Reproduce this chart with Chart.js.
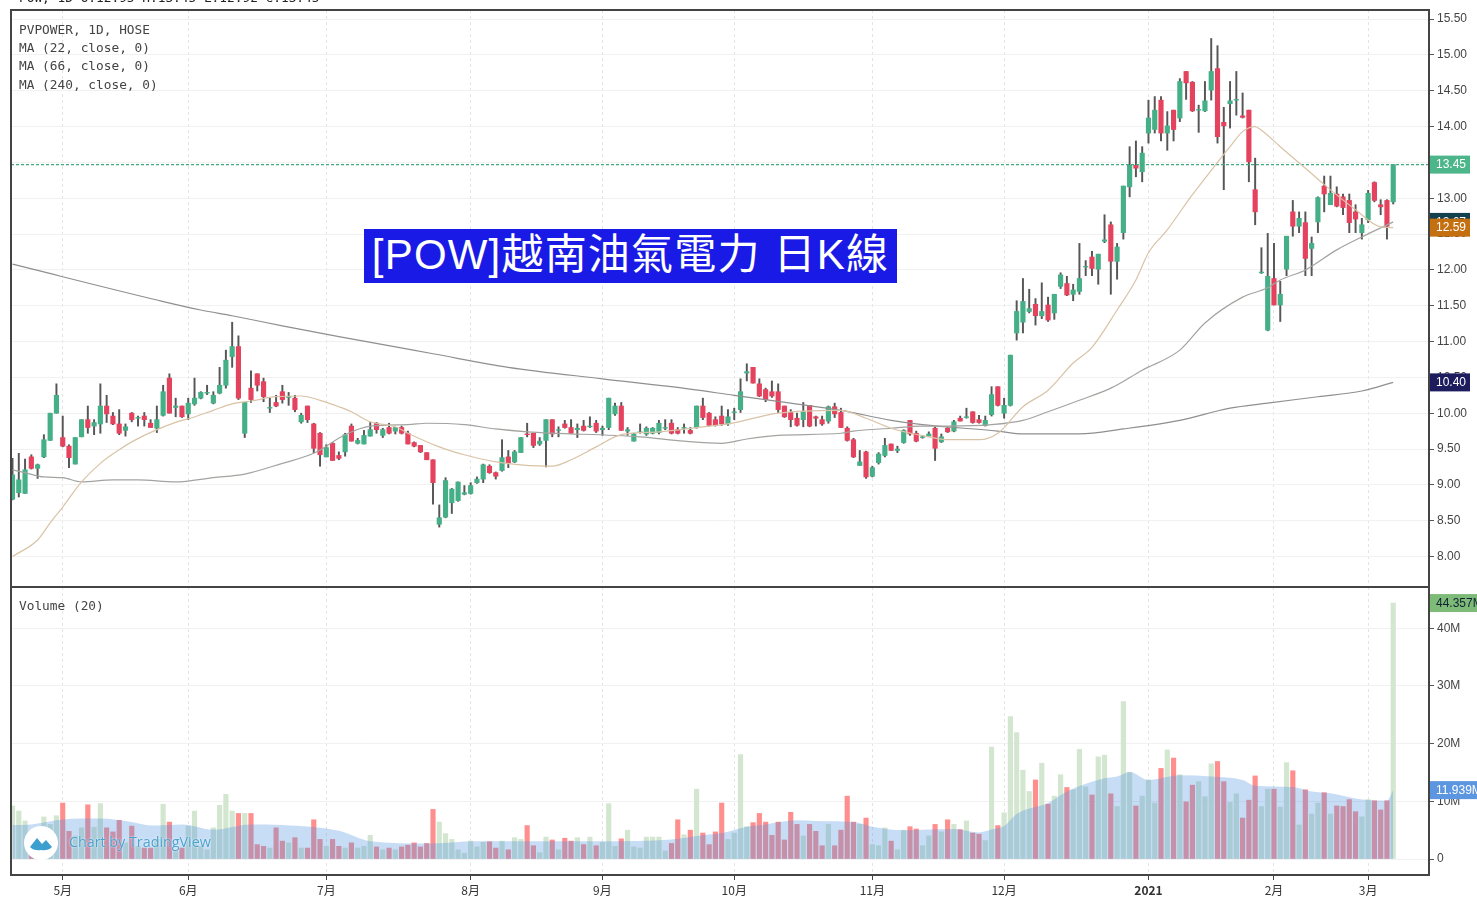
<!DOCTYPE html>
<html>
<head>
<meta charset="utf-8">
<title>POW</title>
<script src="https://cdn.jsdelivr.net/npm/chart.js@4/dist/chart.umd.min.js"></script>
<style>
  html, body { margin: 0; background: #fff; overflow: hidden; }
  #page { position: relative; width: 1477px; height: 898px; overflow: hidden; filter: blur(0.45px); }
  canvas { position: absolute; left: 0; }
  .mono { position: absolute; left: 19px; font: 12.8px/14px "DejaVu Sans Mono", monospace; color: #444; white-space: pre; }
  #banner { position: absolute; left: 364px; top: 229px; width: 533px; height: 54px; background: #1a1ae6; color: #fff;
    font: 42px/51px "Liberation Sans", "Noto Sans CJK TC", sans-serif; letter-spacing: 1.2px; text-align: center; white-space: pre; }
  #brand { position: absolute; left: 69px; top: 833px; font: 14.3px/18px "Open Sans", sans-serif; color: #4aa3cf; text-shadow: 0 0 2px #fff; }
  #logo { position: absolute; left: 24px; top: 826px; }
</style>
</head>
<body>
<div id="page">
  <canvas id="priceChart" width="1477" height="587" style="top:0"></canvas>
  <canvas id="volumeChart" width="1477" height="311" style="top:587px"></canvas>
  <div class="mono" style="top:-9px;color:#222">POW, 1D O:12.95 H:13.45 L:12.92 C:13.45</div>
  <div class="mono" style="top:23px">PVPOWER, 1D, HOSE</div>
  <div class="mono" style="top:41px">MA (22, close, 0)</div>
  <div class="mono" style="top:59px">MA (66, close, 0)</div>
  <div class="mono" style="top:78px">MA (240, close, 0)</div>
  <div class="mono" style="top:599px">Volume (20)</div>
  <div id="banner">[POW]越南油氣電力 日K線</div>
  <svg id="logo" width="34" height="34" viewBox="0 0 34 34">
    <circle cx="17" cy="17" r="17" fill="#fff"/>
    <path d="M6 21 L13 12 L18 18 L22 14 L28 21 Q24 25 17 24 Q10 25 6 21 Z" fill="#3d9fd0"/>
  </svg>
  <div id="brand">Chart by TradingView</div>
</div>
<script>
const monthTicks = [8, 28, 50, 73, 94, 115, 137, 158, 181, 201, 216];
const monthLabels = ['5月', '6月', '7月', '8月', '9月', '10月', '11月', '12月', '2021', '2月', '3月'];
const priceTicks = [8, 8.5, 9, 9.5, 10, 10.5, 11, 11.5, 12, 12.5, 13, 13.5, 14, 14.5, 15, 15.5];
const volumeTicks = [0, 10, 20, 30, 40];

const opens = [
  8.80,8.89,8.88,9.39,9.23,9.39,9.62,10.00,9.66,9.54,
  9.29,9.67,9.91,9.82,9.85,10.10,9.96,9.85,9.76,10.00,
  9.93,9.96,9.86,9.79,9.97,10.49,10.08,10.10,9.99,10.13,
  10.21,10.28,10.14,10.28,10.39,10.79,10.93,9.72,10.35,10.55,
  10.44,10.07,10.15,10.30,10.22,10.21,9.88,10.10,9.85,9.72,
  9.39,9.58,9.41,9.46,9.82,9.58,9.57,9.68,9.86,9.69,
  9.80,9.75,9.80,9.72,9.59,9.55,9.45,9.35,8.45,8.55,
  8.75,8.78,8.87,8.88,9.03,9.08,9.26,9.17,9.20,9.39,
  9.32,9.45,9.71,9.72,9.57,9.62,9.91,9.76,9.85,9.80,
  9.77,9.82,9.81,9.86,9.77,9.80,9.99,10.10,9.75,9.61,
  9.73,9.71,9.72,9.73,9.79,9.86,9.77,9.79,9.76,9.80,
  10.10,10.00,9.91,9.96,9.85,10.01,10.05,10.56,10.64,10.41,
  10.33,10.30,10.30,10.10,10.01,9.93,9.91,10.11,9.95,9.91,
  9.89,10.09,10.01,9.79,9.63,9.27,9.46,9.12,9.31,9.41,
  9.57,9.48,9.59,9.90,9.72,9.66,9.68,9.79,9.60,9.79,
  9.75,9.93,9.94,10.02,9.91,9.83,9.98,10.37,10.00,10.11,
  11.12,11.27,11.42,11.52,11.36,11.51,11.40,11.77,11.81,11.66,
  11.70,12.04,12.18,12.01,12.40,12.63,12.12,12.52,13.16,13.46,
  13.37,13.91,13.96,14.37,13.91,14.23,14.12,14.77,14.62,14.23,
  14.22,14.51,14.81,14.06,14.32,14.37,14.15,14.23,13.12,11.96,
  11.16,11.88,11.51,12.01,12.81,12.61,12.66,12.30,12.67,13.17,
  12.91,13.06,13.02,12.97,12.81,12.52,12.70,13.22,12.91,12.97,12.95
];
const highs = [
  9.37,9.44,9.36,9.42,9.29,9.70,10.00,10.41,9.96,9.56,
  9.66,9.91,10.10,9.91,10.41,10.25,10.01,10.05,9.85,10.01,
  9.96,10.01,9.91,10.10,10.39,10.55,10.21,10.10,10.21,10.49,
  10.30,10.39,10.30,10.64,10.88,11.27,11.08,10.15,10.59,10.55,
  10.49,10.21,10.25,10.39,10.29,10.25,10.00,10.10,9.86,9.73,
  9.56,9.59,9.46,9.72,9.85,9.65,9.76,9.87,9.87,9.79,
  9.86,9.80,9.82,9.75,9.60,9.55,9.45,9.35,8.72,9.10,
  8.95,9.04,8.99,9.03,9.11,9.29,9.28,9.18,9.63,9.48,
  9.48,9.66,9.86,9.72,9.66,9.91,9.91,9.81,9.90,9.91,
  9.85,9.90,9.95,9.90,9.82,10.21,10.14,10.15,9.80,9.72,
  9.85,9.81,9.80,9.90,9.91,9.91,9.80,9.85,9.80,10.10,
  10.21,10.01,9.95,10.10,10.05,10.07,10.48,10.69,10.64,10.48,
  10.35,10.45,10.41,10.10,10.05,10.00,10.15,10.11,9.96,9.96,
  10.10,10.14,10.07,9.81,9.65,9.48,9.47,9.26,9.45,9.65,
  9.57,9.54,9.77,9.90,9.75,9.69,9.74,9.81,9.71,9.80,
  9.90,9.96,10.07,10.02,9.97,9.96,10.37,10.37,10.21,10.81,
  11.57,11.88,11.73,11.60,11.82,11.62,11.66,11.96,11.91,11.80,
  12.37,12.13,12.26,12.22,12.77,12.67,12.37,13.17,13.72,13.80,
  13.72,14.37,14.42,14.42,14.21,14.23,14.67,14.77,14.63,14.30,
  14.63,15.23,15.13,14.27,14.63,14.77,14.47,14.23,13.56,12.31,
  12.51,12.37,11.84,12.47,12.97,12.81,12.81,12.46,13.02,13.31,
  13.31,13.16,13.06,13.06,12.91,12.72,13.11,13.23,12.98,12.98,13.47
];
const lows = [
  8.79,8.83,8.88,9.22,9.09,9.38,9.62,10.00,9.53,9.24,
  9.29,9.67,9.72,9.70,9.72,9.87,9.84,9.70,9.68,9.88,
  9.82,9.82,9.80,9.73,9.96,10.00,9.95,9.94,9.91,10.11,
  10.20,10.26,10.13,10.27,10.35,10.64,10.19,9.66,10.15,10.31,
  10.16,10.01,10.09,10.14,10.11,10.02,9.86,9.87,9.45,9.26,
  9.39,9.34,9.35,9.40,9.61,9.57,9.57,9.68,9.72,9.66,
  9.71,9.71,9.71,9.57,9.53,9.45,9.35,8.73,8.41,8.54,
  8.60,8.77,8.86,8.87,9.02,9.03,9.16,9.08,9.19,9.24,
  9.31,9.45,9.67,9.52,9.55,9.25,9.67,9.67,9.79,9.72,
  9.66,9.75,9.80,9.73,9.69,9.77,9.97,9.76,9.69,9.61,
  9.72,9.69,9.71,9.71,9.77,9.71,9.71,9.72,9.71,9.79,
  9.91,9.82,9.82,9.83,9.83,9.91,10.01,10.45,10.42,10.23,
  10.16,10.22,10.01,9.94,9.81,9.82,9.81,9.81,9.82,9.83,
  9.86,9.94,9.80,9.61,9.38,9.27,9.09,9.11,9.29,9.39,
  9.48,9.45,9.58,9.69,9.60,9.65,9.68,9.34,9.59,9.73,
  9.74,9.89,9.93,9.86,9.86,9.82,9.96,10.10,9.93,10.10,
  11.02,11.12,11.40,11.23,11.32,11.28,11.31,11.74,11.64,11.57,
  11.66,11.92,11.92,11.80,12.38,11.66,11.87,12.43,13.02,13.30,
  13.23,13.77,13.91,13.80,13.67,13.80,14.07,14.38,14.21,13.92,
  14.21,14.37,13.77,13.12,13.98,14.16,14.12,13.23,12.63,11.95,
  11.15,11.51,11.28,11.92,12.47,12.52,11.92,11.92,12.52,12.81,
  12.91,12.88,12.77,12.52,12.52,12.43,12.66,12.95,12.77,12.43,12.92
];
const closes = [
  9.14,9.07,9.21,9.23,9.28,9.63,10.00,10.25,9.54,9.38,
  9.66,9.91,9.80,9.87,10.10,9.99,9.85,9.72,9.81,9.91,
  9.94,9.91,9.80,9.91,10.30,10.00,10.10,9.95,10.14,10.21,
  10.29,10.29,10.25,10.39,10.74,10.93,10.21,10.15,10.19,10.39,
  10.23,10.08,10.10,10.19,10.23,10.05,9.97,9.91,9.51,9.42,
  9.52,9.34,9.37,9.70,9.61,9.62,9.69,9.77,9.77,9.77,
  9.72,9.80,9.72,9.57,9.54,9.46,9.35,9.03,8.54,9.06,
  8.94,9.04,8.89,8.99,9.08,9.28,9.17,9.12,9.38,9.31,
  9.46,9.66,9.70,9.55,9.61,9.91,9.71,9.77,9.80,9.72,
  9.79,9.76,9.82,9.75,9.79,10.21,10.10,9.76,9.77,9.71,
  9.74,9.79,9.79,9.86,9.80,9.72,9.72,9.80,9.72,10.10,
  9.94,9.83,9.83,9.85,9.95,10.02,10.30,10.58,10.42,10.24,
  10.19,10.24,10.05,9.95,9.91,9.83,10.02,9.82,9.93,9.85,
  10.09,9.99,9.80,9.62,9.39,9.32,9.11,9.24,9.43,9.55,
  9.48,9.50,9.76,9.71,9.61,9.67,9.71,9.51,9.67,9.74,
  9.88,9.89,9.95,9.87,9.87,9.90,10.26,10.11,10.11,10.81,
  11.42,11.56,11.46,11.36,11.42,11.30,11.66,11.93,11.65,11.72,
  11.88,12.05,12.02,12.22,12.42,12.12,12.32,13.17,13.46,13.42,
  13.63,14.12,14.23,13.91,14.01,13.96,14.63,14.61,14.22,14.24,
  14.36,14.77,13.86,14.01,14.36,14.38,14.13,13.51,12.81,11.97,
  11.91,11.51,11.66,12.47,12.61,12.72,12.16,12.37,13.01,13.06,
  13.07,12.89,12.87,12.66,12.71,12.63,13.07,12.97,12.88,12.61,13.47
];
// millions of shares
const volumes = [
  9.2,8.3,6.6,4.0,5.5,7.3,6.0,7.5,9.7,4.8,
  4.0,5.4,9.4,5.5,9.6,5.4,4.7,6.7,2.8,5.7,
  2.2,1.9,1.9,3.4,9.5,6.4,1.4,1.9,5.7,8.3,
  2.2,1.6,5.4,9.3,11.2,8.3,7.9,7.9,7.9,2.5,
  2.2,1.9,5.4,3.1,2.8,3.7,1.9,1.9,6.8,3.4,
  2.2,3.4,2.2,1.9,2.8,1.9,2.2,4.1,2.1,1.6,
  1.9,1.6,2.1,2.4,2.8,2.1,2.7,8.6,6.4,4.4,
  3.4,1.6,1.0,3.1,2.1,2.9,3.0,1.9,3.1,1.6,
  3.7,3.4,5.8,2.3,1.1,3.8,3.3,1.6,3.6,3.1,
  3.7,2.5,3.8,2.3,2.9,9.6,2.2,3.5,5.0,2.1,
  1.9,3.8,3.8,3.8,1.4,2.7,6.8,4.2,5.0,12.1,
  4.5,2.5,4.7,9.7,3.4,4.5,18.1,5.6,6.3,7.9,
  6.4,4.1,6.4,3.3,8.1,6.0,4.0,6.0,4.8,2.3,
  6.0,2.3,5.0,10.9,6.4,6.0,7.1,2.5,2.3,5.4,
  3.1,1.6,5.0,5.6,5.2,2.3,4.0,6.0,4.7,6.8,
  6.0,5.1,6.6,4.5,4.3,3.2,19.4,5.8,8.0,24.7,
  21.9,15.4,11.7,13.7,16.6,9.5,10.9,14.6,12.4,12.0,
  19.0,12.5,11.1,17.7,18.0,11.3,9.1,27.3,15.0,9.2,
  10.9,13.7,9.7,15.7,18.9,17.5,14.6,9.9,12.8,13.4,
  10.8,16.5,16.9,13.4,9.8,11.3,7.1,10.2,14.4,9.1,
  12.1,12.1,9.0,16.7,15.3,5.9,12.0,7.8,9.7,11.5,
  7.8,9.2,9.1,10.3,8.2,7.3,10.3,10.1,8.5,10.1,44.357
];

const ma22Days = [0,4,6,8,11,14,17,19,23,27,28,32,35,38,42,46,49,52,54,57,61,63,68,72,77,81,86,89,93,97,103,110,114,122,132,136,140,146,149,154,157,161,165,169,172,176,179,181,184,188,191,194,196,198,199,202,206,209,214,218,220];
const ma22Values = [8.00,8.23,8.47,8.69,9.04,9.30,9.49,9.60,9.77,9.90,9.92,10.04,10.13,10.17,10.23,10.24,10.18,10.09,10.02,9.88,9.81,9.72,9.53,9.42,9.32,9.28,9.26,9.35,9.53,9.70,9.74,9.81,9.85,10.00,10.04,9.93,9.79,9.67,9.63,9.63,9.72,10.09,10.32,10.70,10.92,11.44,11.86,12.24,12.56,13.05,13.39,13.72,13.93,14.00,13.95,13.72,13.42,13.19,12.84,12.60,12.59];
const ma66Days = [0,2,5,8,11,16,20,26,32,37,43,48,53,57,63,66,72,77,82,100,107,113,117,122,132,134,140,145,149,156,161,165,170,175,180,186,190,196,200,202,206,211,215,220];
const ma66Values = [9.21,9.17,9.11,9.10,9.04,9.07,9.07,9.04,9.10,9.15,9.30,9.44,9.70,9.82,9.84,9.86,9.84,9.78,9.74,9.67,9.61,9.58,9.64,9.69,9.72,9.75,9.79,9.82,9.82,9.84,9.90,10.02,10.18,10.35,10.60,10.88,11.26,11.62,11.75,11.86,12.00,12.28,12.46,12.67];
const ma240Days = [0,23,30,35,43,52,67,79,94,105,115,124,132,140,145,157,161,170,177,186,194,200,208,215,220];
const ma240Values = [12.08,11.58,11.44,11.36,11.22,11.07,10.83,10.64,10.48,10.37,10.25,10.14,10.04,9.90,9.84,9.75,9.71,9.71,9.78,9.90,10.07,10.14,10.23,10.31,10.43];
const volMaDays = [0,3,8,14,19,22,27,32,38,43,52,57,66,74,78,94,105,109,113,117,120,125,128,134,137,142,150,154,156,158,160,165,168,174,176,178,181,186,191,196,198,204,207,210,215,219,220];
const volMaValues = [5.9,6.0,6.85,7.0,6.4,5.8,6.0,5.1,6.0,5.9,4.9,3.1,2.7,3.1,3.1,3.1,3.4,4.0,4.5,5.6,6.0,6.7,6.6,6.4,5.6,5.0,5.2,4.6,5.1,5.7,7.8,9.7,11.7,14.0,14.3,15.1,13.7,14.5,14.3,13.7,12.7,12.5,11.7,11.4,10.3,10.1,11.939];

const lastPrice = 13.47;
const priceTagValues = [13.47, 12.67, 12.59, 10.43];
const priceTagTexts = ['13.45', '12.67', '12.59', '10.40'];
const priceTagColors = ['#4db58a', '#12404f', '#c46f10', '#1c1c5e'];
const volumeTagValues = [44.357, 11.939];
const volumeTagTexts = ['44.357M', '11.939M'];
const volumeTagColors = ['#7fbb78', '#5c96e0'];
const volumeTagInk = ['#123', '#fff'];

const UP = '#45b088';
const DOWN = '#e5425e';
const days = opens.map((_, i) => i);
const pts = (xs, ys) => xs.map((x, k) => ({ x, y: ys[k] }));

const xMin = -0.24;
const xMax = 225.7;
const axisFont = { family: '"Liberation Sans", Arial, sans-serif', size: 12 };

function xAxis(showLabels) {
  return {
    type: 'linear',
    offset: false,
    min: xMin,
    max: xMax,
    afterBuildTicks: (s) => { s.ticks = monthTicks.map((value) => ({ value })); },
    afterFit: (s) => { s.height = showLabels ? 23 : 0; s.paddingLeft = 0; s.paddingRight = 0; },
    grid: { offset: false, color: '#e4e4e4', tickColor: '#444', tickLength: showLabels ? 5 : 0, drawTicks: showLabels },
    border: { display: false, dash: [3, 3] },
    ticks: {
      display: showLabels,
      autoSkip: false,
      maxRotation: 0,
      padding: 3,
      color: '#333',
      font: (ctx) => ({
        family: '"Noto Sans CJK TC", sans-serif',
        size: 12,
        weight: ctx.tick && ctx.tick.value === monthTicks[8] ? 'bold' : 'normal',
      }),
      callback: (v) => monthLabels[monthTicks.indexOf(v)],
    },
  };
}

function yAxis(min, max, values, fmt) {
  return {
    position: 'right',
    min,
    max,
    afterBuildTicks: (s) => { s.ticks = values.map((value) => ({ value })); },
    afterFit: (s) => { s.width = 48; s.paddingTop = 0; s.paddingBottom = 0; },
    grid: { color: '#f1f1f1', tickColor: '#555', tickLength: 5 },
    border: { color: '#444', width: 2 },
    ticks: { color: '#444', font: axisFont, padding: 3, callback: fmt },
  };
}

// outer frame and the coloured value tags on the right hand axis
function framePlugin(tagValues, tagTexts, tagColors, tagInk, tagWidth) {
  return {
    id: 'frame',
    afterDraw(chart) {
      const { ctx, chartArea: a, scales } = chart;
      ctx.save();
      ctx.strokeStyle = '#444';
      ctx.lineWidth = 2;
      ctx.strokeRect(a.left, a.top, a.right - a.left, a.bottom - a.top);
      ctx.font = '12px "Liberation Sans", Arial, sans-serif';
      ctx.textBaseline = 'middle';
      tagValues.forEach((v, i) => {
        const y = scales.y.getPixelForValue(v);
        ctx.fillStyle = tagColors[i];
        ctx.fillRect(a.right + 1, y - 9, tagWidth, 18);
        ctx.fillStyle = tagInk ? tagInk[i] : '#fff';
        ctx.textAlign = 'left';
        ctx.fillText(tagTexts[i], a.right + 7, y + 0.5);
      });
      ctx.restore();
    },
  };
}

function lineSet(xs, ys, color) {
  return { type: 'line', data: pts(xs, ys), borderColor: color, borderWidth: 1.2, pointRadius: 0, cubicInterpolationMode: 'monotone', order: 0 };
}

new Chart(document.getElementById('priceChart'), {
  data: {
    datasets: [
      lineSet(ma22Days, ma22Values, '#d9c3a6'),
      lineSet(ma66Days, ma66Values, '#a3a3a0'),
      lineSet(ma240Days, ma240Values, '#8f8f8f'),
      {
        type: 'line',
        data: [{ x: xMin, y: lastPrice }, { x: xMax, y: lastPrice }],
        borderColor: '#3daa80',
        borderWidth: 1.2,
        borderDash: [3, 2],
        pointRadius: 0,
        order: 0,
      },
      {
        type: 'bar',
        data: days.map((i) => ({ x: i, y: [opens[i], closes[i]] })),
        backgroundColor: days.map((i) => (closes[i] >= opens[i] ? UP : DOWN)),
        barThickness: 4.5,
        grouped: false,
        order: 1,
      },
      {
        type: 'bar',
        data: days.map((i) => ({ x: i, y: [lows[i], highs[i]] })),
        backgroundColor: '#565656',
        barThickness: 1.3,
        grouped: false,
        order: 2,
      },
    ],
  },
  options: {
    responsive: false,
    animation: false,
    layout: { padding: { left: 11, top: 10, right: 0, bottom: 0 } },
    plugins: { legend: { display: false }, tooltip: { enabled: false } },
    scales: {
      x: xAxis(false),
      y: yAxis(7.574, 15.628, priceTicks, (v) => v.toFixed(2)),
    },
  },
  plugins: [framePlugin(priceTagValues, priceTagTexts, priceTagColors, null, 40)],
});

new Chart(document.getElementById('volumeChart'), {
  data: {
    datasets: [
      {
        type: 'line',
        data: pts(volMaDays, volMaValues),
        borderWidth: 0,
        pointRadius: 0,
        cubicInterpolationMode: 'monotone',
        fill: 'origin',
        backgroundColor: 'rgba(80,145,225,0.32)',
        order: 0,
      },
      {
        type: 'bar',
        data: days.map((i) => ({ x: i, y: volumes[i] })),
        backgroundColor: days.map((i) => (closes[i] >= opens[i] ? '#d3e6d0' : '#ff8f8f')),
        barThickness: 4.5,
        grouped: false,
        order: 1,
      },
    ],
  },
  options: {
    responsive: false,
    animation: false,
    layout: { padding: { left: 11, top: 0, right: 0, bottom: 0 } },
    plugins: { legend: { display: false }, tooltip: { enabled: false } },
    scales: {
      x: xAxis(true),
      y: yAxis(-2.77, 47.14, volumeTicks, (v) => (v === 0 ? '0' : v + 'M')),
    },
  },
  plugins: [framePlugin(volumeTagValues, volumeTagTexts, volumeTagColors, volumeTagInk, 47)],
});
</script>
</body>
</html>
